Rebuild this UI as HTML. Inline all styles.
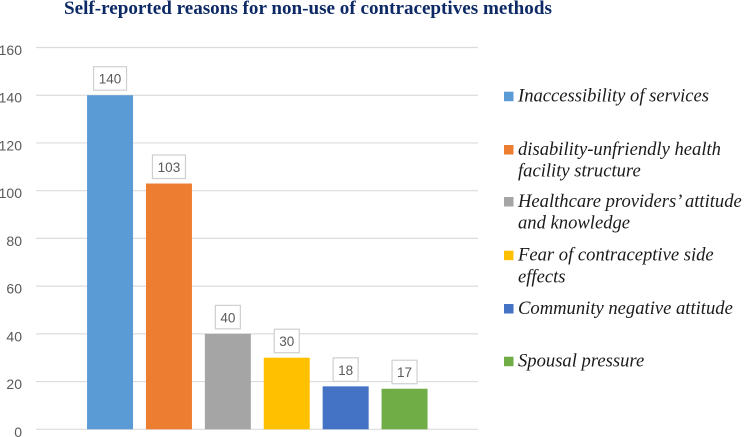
<!DOCTYPE html>
<html>
<head>
<meta charset="utf-8">
<style>
html,body{margin:0;padding:0;background:#fff;}
body{width:744px;height:437px;overflow:hidden;position:relative;}
svg{position:absolute;left:0;top:0;display:block;}
</style>
</head>
<body>
<svg id="chart" width="744" height="437" viewBox="0 0 744 437" xmlns="http://www.w3.org/2000/svg">
<text x="64" y="14" font-family="'Liberation Serif',serif" font-weight="bold" font-size="19.1" fill="#0d2a66">Self-reported reasons for non-use of contraceptives methods</text>
<g id="grid"></g>
<g id="yticks"></g>
<g id="bars"></g>
<g id="labels"></g>
<g id="legend"></g>
</svg>
<script>
const categories = [
  ["Inaccessibility of services"],
  ["disability-unfriendly health", "facility structure"],
  ["Healthcare providers\u2019 attitude", "and knowledge"],
  ["Fear of contraceptive side", "effects"],
  ["Community negative attitude"],
  ["Spousal pressure"]
];
const values = [140, 103, 40, 30, 18, 17];
const colors = ["#5b9bd5", "#ed7d31", "#a5a5a5", "#ffc000", "#4472c4", "#70ad47"];
const yTicks = [0, 20, 40, 60, 80, 100, 120, 140, 160];

const NS = "http://www.w3.org/2000/svg";
const plot = {left: 36, right: 478, top: 47.5, bottom: 429.3, max: 160};
const step = 58.9, barW = 46;
function y(v){ return plot.bottom - v / plot.max * (plot.bottom - plot.top); }
function x(i){ return (plot.left + plot.right) / 2 + 0.3 + (i - (values.length - 1) / 2) * step; }
function make(tag, attrs, parent, text){
  const el = document.createElementNS(NS, tag);
  for (const k in attrs) el.setAttribute(k, attrs[k]);
  if (text !== undefined) el.textContent = text;
  parent.appendChild(el);
  return el;
}
const gridG = document.getElementById("grid");
const tickG = document.getElementById("yticks");
yTicks.forEach(function(t){
  const line = make("line", {x1: plot.left, x2: plot.right, y1: y(t), y2: y(t), stroke: "#dcdcdc", "stroke-width": 1.2}, gridG);
  
  
  const lab = make("text", {x: 22, y: y(t) + 7.5, "text-anchor": "end", "font-family": "'Liberation Sans',sans-serif", "font-size": 14, fill: "#595959"}, tickG, String(t));
  
  
});
const barG = document.getElementById("bars");
const labG = document.getElementById("labels");
values.forEach(function(v, i){
  const cx = x(i);
  const bar = make("rect", {x: cx - barW / 2, y: y(v), width: barW, height: plot.bottom - y(v), fill: colors[i]}, barG);
  
  
  const s = String(v);
  const w = s.length > 2 ? 33 : 25;
  const box = make("rect", {x: cx - w / 2, y: y(v) - 28.5, width: w, height: 23.5, fill: "#fff", stroke: "#cfcfcf", "stroke-width": 1.2}, labG);
  
  
  const t = make("text", {x: cx, y: y(v) - 11.5, "text-anchor": "middle", "font-family": "'Liberation Sans',sans-serif", "font-size": 13.5, fill: "#595959"}, labG, s);
  
  
});
const legendBaselines = [101.7, 155, 207, 260.7, 314, 366.7];
const legG = document.getElementById("legend");
categories.forEach(function(lines, i){
  const b = legendBaselines[i];
  const sw = make("rect", {x: 504, y: b - 10, width: 9.5, height: 9.5, fill: colors[i]}, legG);
  
  
  lines.forEach(function(line, j){
    const t = make("text", {x: 518, y: b + j * 21.7, "font-family": "'Liberation Serif',serif", "font-style": "italic", "font-size": 18.6, fill: "#1a1a1a"}, legG, line);
    
    
  });
});
</script>
</body>
</html>
